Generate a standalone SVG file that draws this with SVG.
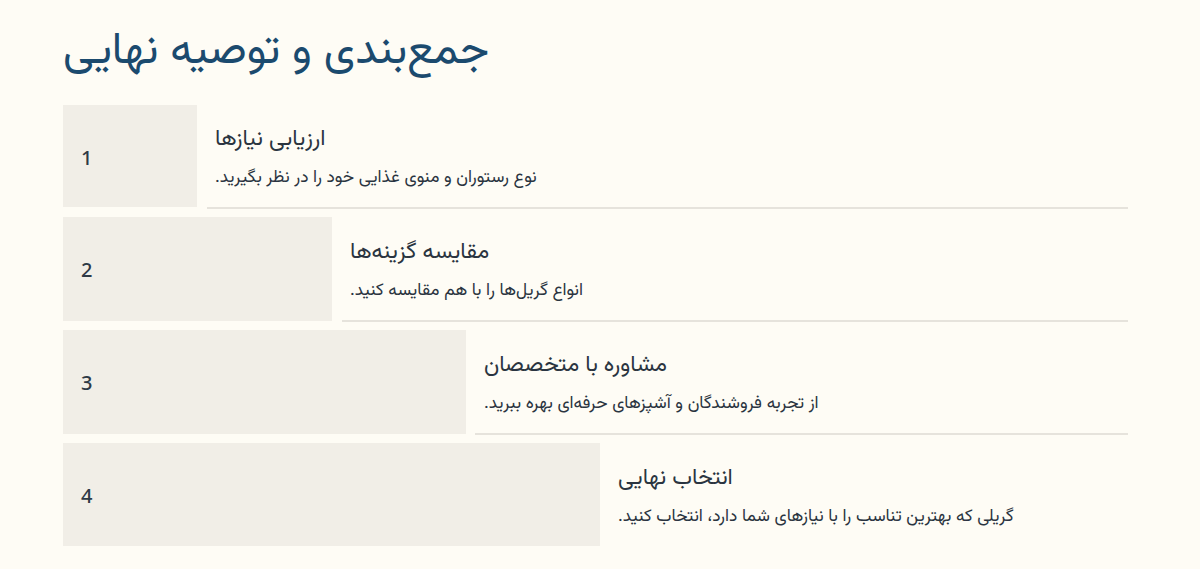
<svg xmlns="http://www.w3.org/2000/svg" width="1200" height="569" viewBox="0 0 1200 569">
<style>
.bg{fill:#fefcf5}
.box{fill:#f1eee7}
.rule{stroke:#dedbd3;stroke-width:1.5}
.num{font-family:"Noto Sans","DejaVu Sans",sans-serif;font-size:20px;font-weight:500;fill:#2e3a46}
.t{font-family:"Vazirmatn","Noto Sans Arabic","DejaVu Sans",sans-serif;font-size:22.5px;fill:#2a3440;direction:rtl}
.d{font-family:"Vazirmatn","Noto Sans Arabic","DejaVu Sans",sans-serif;font-size:17.3px;fill:#2a3440;direction:rtl}
.h{font-family:"Vazirmatn","Noto Sans Arabic","DejaVu Sans",sans-serif;font-size:44.5px;fill:#1b4a6e;direction:rtl}
</style>
<rect class="bg" x="0" y="0" width="1200" height="569"/>
<text class="h" x="63" y="63" text-anchor="end">جمع‌بندی و توصیه نهایی</text>
<g id="connectors">
<line class="rule" x1="207" y1="208" x2="1128" y2="208"/>
<line class="rule" x1="342" y1="321" x2="1128" y2="321"/>
<line class="rule" x1="475" y1="434" x2="1128" y2="434"/>
</g>
<g id="step1">
<rect class="box" x="63" y="105" width="134" height="102"/>
<text class="num" x="81" y="165">1</text>
<text class="t" x="215" y="145" text-anchor="end">ارزیابی نیازها</text>
<text class="d" x="215" y="182" text-anchor="end">نوع رستوران و منوی غذایی خود را در نظر بگیرید.</text>
</g>
<g id="step2">
<rect class="box" x="63" y="217" width="269" height="104"/>
<text class="num" x="81" y="277">2</text>
<text class="t" x="350" y="258" text-anchor="end">مقایسه گزینه‌ها</text>
<text class="d" x="350" y="295" text-anchor="end">انواع گریل‌ها را با هم مقایسه کنید.</text>
</g>
<g id="step3">
<rect class="box" x="63" y="330" width="403" height="104"/>
<text class="num" x="81" y="390">3</text>
<text class="t" x="484" y="371" text-anchor="end">مشاوره با متخصصان</text>
<text class="d" x="484" y="408" text-anchor="end">از تجربه فروشندگان و آشپزهای حرفه‌ای بهره ببرید.</text>
</g>
<g id="step4">
<rect class="box" x="63" y="443" width="537" height="103"/>
<text class="num" x="81" y="503">4</text>
<text class="t" x="618" y="484" text-anchor="end">انتخاب نهایی</text>
<text class="d" x="618" y="521" text-anchor="end">گریلی که بهترین تناسب را با نیازهای شما دارد، انتخاب کنید.</text>
</g>
</svg>
